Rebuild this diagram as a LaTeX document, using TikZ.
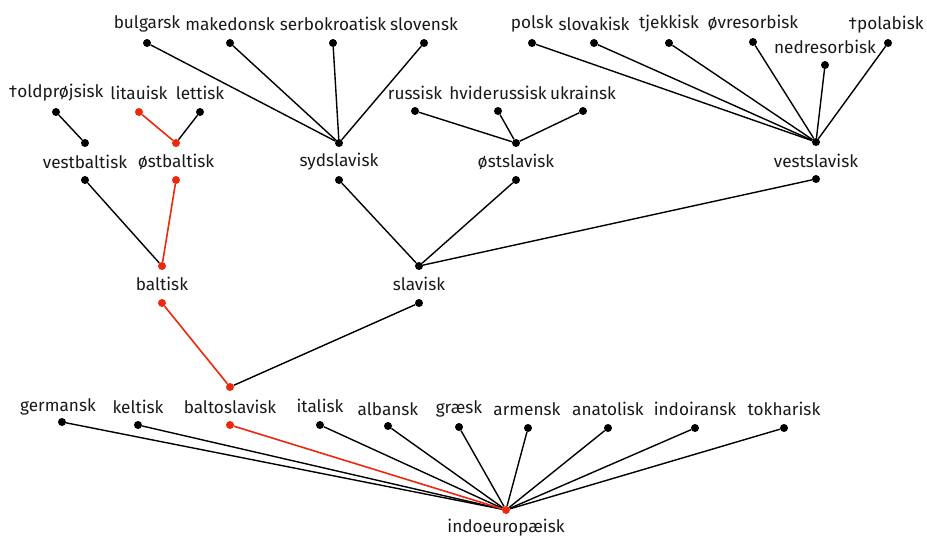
\documentclass[tikz,border=0pt]{standalone}
\usepackage{fontspec}
\setmainfont{Fira Sans}
\definecolor{hl}{RGB}{238,40,12}
\begin{document}
\begin{tikzpicture}[x=1pt,y=-1pt,
  dot/.style={circle,fill=black,inner sep=0pt,minimum size=8pt},
  rdot/.style={dot,fill=hl},
  lab/.style={inner sep=0pt,font=\fontsize{17.2}{20}\selectfont,text=black!90},
  edge/.style={line width=1.4pt,black},
  redge/.style={line width=1.6pt,hl}]
\useasboundingbox (0,0) rectangle (927,538);
% top row
\node[lab] (bulgarsk) at (147,24) {bulgarsk};
\node[dot] (bulgarsk-d) at (147,43) {};
\node[lab] (makedonsk) at (230,24) {makedonsk};
\node[dot] (makedonsk-d) at (230,43) {};
\node[lab] (serbokroatisk) at (333,24) {serbokroatisk};
\node[dot] (serbokroatisk-d) at (333,43) {};
\node[lab] (slovensk) at (424,24) {slovensk};
\node[dot] (slovensk-d) at (424,43) {};
\node[lab] (polsk) at (532,24) {polsk};
\node[dot] (polsk-d) at (532,43) {};
\node[lab] (slovakisk) at (594,24) {slovakisk};
\node[dot] (slovakisk-d) at (594,43) {};
\node[lab] (tjekkisk) at (669,24) {tjekkisk};
\node[dot] (tjekkisk-d) at (669,43) {};
\node[lab] (ovresorbisk) at (753,23) {øvresorbisk};
\node[dot] (ovresorbisk-d) at (753,42) {};
\node[lab] (nedresorbisk) at (825,47) {nedresorbisk};
\node[dot] (nedresorbisk-d) at (825,65) {};
\node[lab] (polabisk) at (886,25) {†polabisk};
\node[dot] (polabisk-d) at (888,43) {};
% second row
\node[lab] (oldprojsisk) at (56,93) {†oldprøjsisk};
\node[dot] (oldprojsisk-d) at (56,112) {};
\node[lab] (litauisk) at (139,93) {litauisk};
\node[rdot] (litauisk-d) at (139,112) {};
\node[lab] (lettisk) at (200,93) {lettisk};
\node[dot] (lettisk-d) at (200,112) {};
\node[lab] (russisk) at (415,93) {russisk};
\node[dot] (russisk-d) at (415,111) {};
\node[lab] (hviderussisk) at (498,93) {hviderussisk};
\node[dot] (hviderussisk-d) at (498,111) {};
\node[lab] (ukrainsk) at (583,93) {ukrainsk};
\node[dot] (ukrainsk-d) at (583,111) {};
% third row
\node[dot] (vestbaltisk-t) at (85,143) {};
\node[lab] (vestbaltisk) at (85,162) {vestbaltisk};
\node[dot] (vestbaltisk-b) at (85,180) {};
\node[rdot] (ostbaltisk-t) at (176,143) {};
\node[lab] (ostbaltisk) at (176,162) {østbaltisk};
\node[rdot] (ostbaltisk-b) at (176,180) {};
\node[dot] (sydslavisk-t) at (339,143) {};
\node[lab] (sydslavisk) at (339,162) {sydslavisk};
\node[dot] (sydslavisk-b) at (339,180) {};
\node[dot] (ostslavisk-t) at (516,143) {};
\node[lab] (ostslavisk) at (516,162) {østslavisk};
\node[dot] (ostslavisk-b) at (516,180) {};
\node[dot] (vestslavisk-t) at (816,142) {};
\node[lab] (vestslavisk) at (816,161) {vestslavisk};
\node[dot] (vestslavisk-b) at (816,179) {};
% fourth row
\node[rdot] (baltisk-t) at (162,266) {};
\node[lab] (baltisk) at (162,284) {baltisk};
\node[rdot] (baltisk-b) at (162,303) {};
\node[dot] (slavisk-t) at (419,266) {};
\node[lab] (slavisk) at (419,284) {slavisk};
\node[dot] (slavisk-b) at (419,303) {};
% fifth row
\node[lab] (germansk) at (58,407) {germansk};
\node[dot] (germansk-d) at (62,422) {};
\node[lab] (keltisk) at (138,407) {keltisk};
\node[dot] (keltisk-d) at (138,425) {};
\node[rdot] (baltoslavisk-t) at (230,387) {};
\node[lab] (baltoslavisk) at (230,407) {baltoslavisk};
\node[rdot] (baltoslavisk-b) at (230,425) {};
\node[lab] (italisk) at (320,406) {italisk};
\node[dot] (italisk-d) at (320,425) {};
\node[lab] (albansk) at (388,409) {albansk};
\node[dot] (albansk-d) at (388,426) {};
\node[lab] (graesk) at (459,409) {græsk};
\node[dot] (graesk-d) at (459,427) {};
\node[lab] (armensk) at (527,409) {armensk};
\node[dot] (armensk-d) at (528,428) {};
\node[lab] (anatolisk) at (608,409) {anatolisk};
\node[dot] (anatolisk-d) at (608,428) {};
\node[lab] (indoiransk) at (695,409) {indoiransk};
\node[dot] (indoiransk-d) at (695,428) {};
\node[lab] (tokharisk) at (784,409) {tokharisk};
\node[dot] (tokharisk-d) at (784,428) {};
% root
\node[rdot] (indo-d) at (506,510) {};
\node[lab] (indo) at (506,528) {indoeuropæisk};
% edges
\foreach \c in {bulgarsk,makedonsk,serbokroatisk,slovensk}
  \draw[edge] (sydslavisk-t) -- (\c-d);
\foreach \c in {polsk,slovakisk,tjekkisk,ovresorbisk,nedresorbisk,polabisk}
  \draw[edge] (vestslavisk-t) -- (\c-d);
\foreach \c in {russisk,hviderussisk,ukrainsk}
  \draw[edge] (ostslavisk-t) -- (\c-d);
\draw[edge] (vestbaltisk-t) -- (oldprojsisk-d);
\draw[edge] (ostbaltisk-t) -- (lettisk-d);
\draw[redge] (ostbaltisk-t) -- (litauisk-d);
\draw[edge] (baltisk-t) -- (vestbaltisk-b);
\draw[redge] (baltisk-t) -- (ostbaltisk-b);
\foreach \c in {sydslavisk,ostslavisk,vestslavisk}
  \draw[edge] (slavisk-t) -- (\c-b);
\draw[edge] (baltoslavisk-t) -- (slavisk-b);
\draw[redge] (baltoslavisk-t) -- (baltisk-b);
\foreach \c in {germansk,keltisk,italisk,albansk,graesk,armensk,anatolisk,indoiransk,tokharisk}
  \draw[edge] (indo-d) -- (\c-d);
\draw[redge] (indo-d) -- (baltoslavisk-b);
\end{tikzpicture}
\end{document}
